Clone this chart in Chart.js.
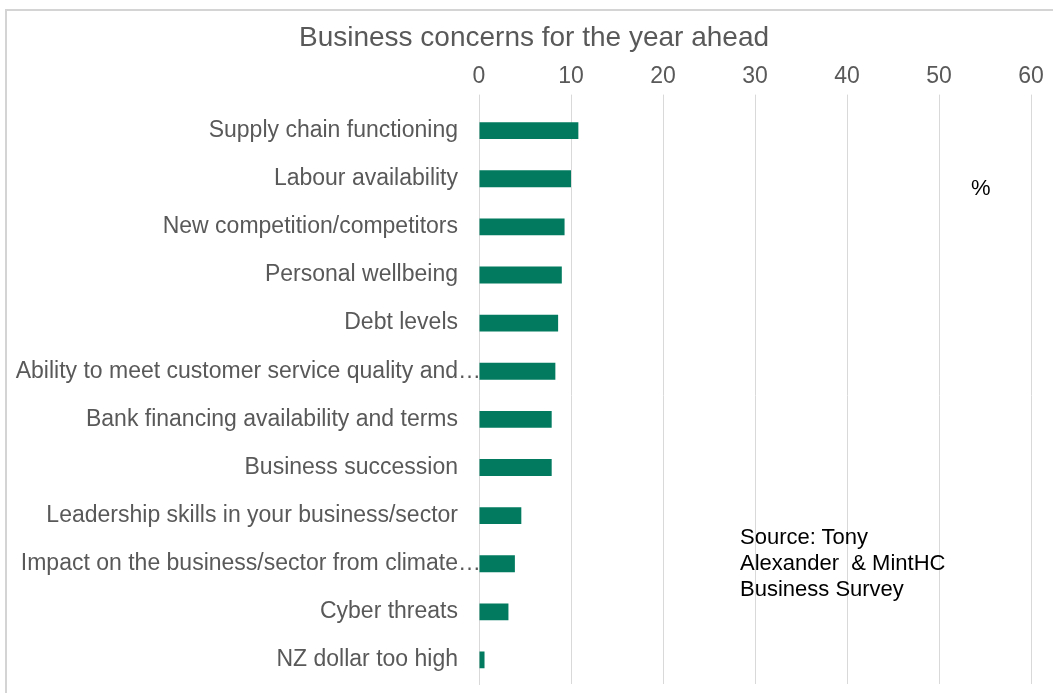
<!DOCTYPE html>
<html>
<head>
<meta charset="utf-8">
<script src="https://cdn.jsdelivr.net/npm/chart.js@4/dist/chart.umd.min.js"></script>
<style>
  body { margin: 0; background: #fff; font-family: "Liberation Sans", Arial, sans-serif; }
  #wrap { position: relative; width: 1053px; height: 693px; overflow: hidden; }
  #frame { position: absolute; left: 5px; top: 9px; width: 1100px; height: 720px;
           border-left: 2px solid #d4d4d4; border-top: 2px solid #d4d4d4; }
  canvas { position: absolute; left: 0; top: 0; }
  #title { position: absolute; left: 0; top: 20px; width: 1068px; text-align: center;
           color: #595959; font-size: 28px; line-height: 34px; }
  .note { position: absolute; color: #000; font-size: 22px; line-height: 26px; white-space: pre; }
</style>
</head>
<body>
<div id="wrap">
  <div id="frame"></div>
  <canvas id="concerns-chart" width="1053" height="693"></canvas>
  <div id="title">Business concerns for the year ahead</div>
  <div class="note" style="left:971px; top:175px;">%</div>
  <div class="note" style="left:740px; top:524px;">Source: Tony
Alexander  &amp; MintHC
Business Survey</div>
</div>
<script>
// survey answers, % of businesses
var concerns = [
  'Supply chain functioning',
  'Labour availability',
  'New competition/competitors',
  'Personal wellbeing',
  'Debt levels',
  'Ability to meet customer service quality and\u2026',
  'Bank financing availability and terms',
  'Business succession',
  'Leadership skills in your business/sector',
  'Impact on the business/sector from climate\u2026',
  'Cyber threats',
  'NZ dollar too high'
];
var shares = [10.8, 10.0, 9.3, 9.0, 8.6, 8.3, 7.9, 7.9, 4.6, 3.9, 3.2, 0.6];
var xTicks = [0, 10, 20, 30, 40, 50, 60];

var gray = '#595959';
var gridColor = '#d9d9d9';

var ctx = document.getElementById('concerns-chart');
var concernsChart = new Chart(ctx, {
    type: 'bar',
    data: {
      labels: concerns,
      datasets: [{
        data: shares,
        backgroundColor: '#017a5f',
        borderWidth: 0,
        categoryPercentage: 1,
        barPercentage: 0.35
      }]
    },
    options: {
      indexAxis: 'y',
      responsive: false,
      animation: false,
      layout: {
        // top leaves room for the html title
        padding: { left: 0, right: 22, top: 59, bottom: 9 }
      },
      plugins: {
        legend: { display: false },
        tooltip: { enabled: false }
      },
      scales: {
        x: {
          position: 'top',
          min: 0,
          max: 60,
          afterBuildTicks: function (scale) {
            scale.ticks = xTicks.map(function (v) { return { value: v }; });
          },
          grid: { color: gridColor, tickLength: 12, drawTicks: true, tickColor: gridColor },
          border: { display: false },
          ticks: {
            color: gray,
            padding: 4,
            font: { family: 'Liberation Sans', size: 23 }
          }
        },
        y: {
          grid: { display: false, drawTicks: false },
          border: { color: gridColor, width: 1 },
          // fixed label column, no extra room above/below the categories
          afterFit: function (scale) {
            scale.width = 479;
            scale.paddingTop = 0;
            scale.paddingBottom = 0;
          },
          ticks: {
            color: gray,
            padding: -2,
            autoSkip: false,
            font: { family: 'Liberation Sans', size: 23 },
            // cut-off labels run their ellipsis up to the axis, full ones stop short of it
            callback: function (value) {
              var label = this.getLabelForValue(value);
              return label.slice(-1) === '\u2026' ? label : label + '\u2002\u2002';
            }
          }
        }
      }
    }
});
</script>
</body>
</html>
